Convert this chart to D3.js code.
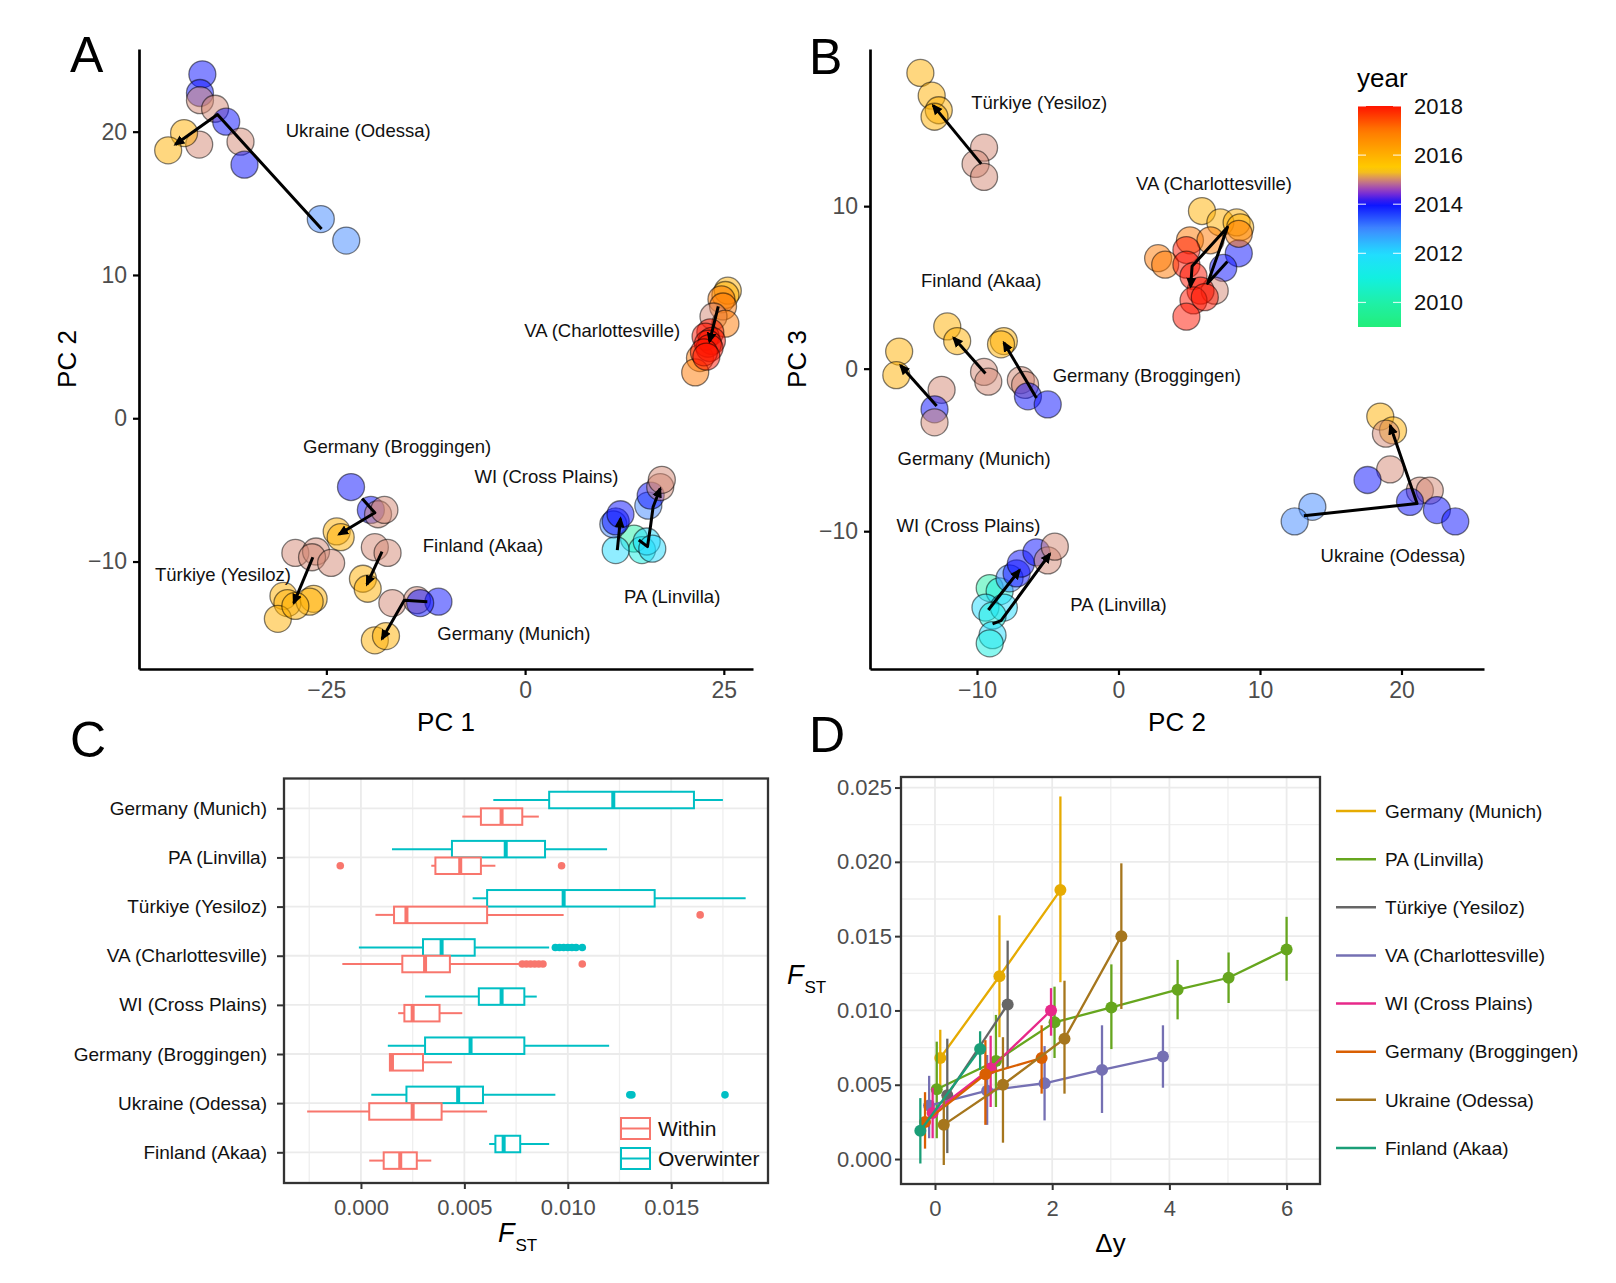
<!DOCTYPE html>
<html><head><meta charset="utf-8">
<script src="https://cdn.jsdelivr.net/npm/d3@7"></script>
<style>body{margin:0;background:#fff}</style>
</head><body>
<script>
// ================= DATA =================
const populations = ["Germany (Munich)","PA (Linvilla)","Türkiye (Yesiloz)","VA (Charlottesville)","WI (Cross Plains)","Germany (Broggingen)","Ukraine (Odessa)","Finland (Akaa)"];

// Panel A: [population, year, PC1, PC2]
const pcaA = [
 ["Ukraine (Odessa)",2013,-25.7,13.9],["Ukraine (Odessa)",2013,-22.5,12.4],
 ["Ukraine (Odessa)",2014,-40.6,24.0],["Ukraine (Odessa)",2014,-40.9,22.7],
 ["Ukraine (Odessa)",2015,-40.9,22.2],["Ukraine (Odessa)",2015,-39.0,21.6],
 ["Ukraine (Odessa)",2014,-37.6,20.7],["Ukraine (Odessa)",2015,-35.8,19.3],
 ["Ukraine (Odessa)",2014,-35.3,17.7],["Ukraine (Odessa)",2015,-41.0,19.1],
 ["Ukraine (Odessa)",2016,-42.9,19.9],["Ukraine (Odessa)",2016,-44.9,18.7],
 ["VA (Charlottesville)",2016,25.5,8.9],["VA (Charlottesville)",2016,25.2,8.6],
 ["VA (Charlottesville)",2017,24.7,8.3],["VA (Charlottesville)",2017,24.9,7.8],
 ["VA (Charlottesville)",2015,23.7,7.1],["VA (Charlottesville)",2017,25.2,6.6],
 ["VA (Charlottesville)",2017,22.0,4.2],["VA (Charlottesville)",2017,21.4,3.2],
 ["VA (Charlottesville)",2018,23.3,6.0],["VA (Charlottesville)",2018,22.7,5.7],
 ["VA (Charlottesville)",2018,23.5,5.4],["VA (Charlottesville)",2018,23.0,5.2],
 ["VA (Charlottesville)",2018,23.2,4.9],["VA (Charlottesville)",2018,22.5,4.6],
 ["VA (Charlottesville)",2018,22.8,4.3],
 ["Germany (Broggingen)",2014,-21.9,-4.8],["Germany (Broggingen)",2014,-19.4,-6.4],
 ["Germany (Broggingen)",2015,-18.5,-6.7],["Germany (Broggingen)",2015,-17.7,-6.4],
 ["Germany (Broggingen)",2016,-23.7,-7.9],["Germany (Broggingen)",2016,-23.2,-8.3],
 ["Türkiye (Yesiloz)",2015,-28.9,-9.4],["Türkiye (Yesiloz)",2015,-26.3,-9.3],
 ["Türkiye (Yesiloz)",2015,-26.8,-9.7],["Türkiye (Yesiloz)",2015,-24.4,-10.1],
 ["Türkiye (Yesiloz)",2016,-30.4,-12.4],["Türkiye (Yesiloz)",2016,-29.9,-12.9],
 ["Türkiye (Yesiloz)",2016,-26.6,-12.6],["Türkiye (Yesiloz)",2016,-27.1,-12.8],
 ["Türkiye (Yesiloz)",2016,-31.1,-14.0],["Türkiye (Yesiloz)",2016,-28.9,-13.1],
 ["Finland (Akaa)",2015,-18.9,-9.0],["Finland (Akaa)",2015,-17.3,-9.4],
 ["Finland (Akaa)",2016,-20.4,-11.2],["Finland (Akaa)",2016,-19.8,-11.9],
 ["Germany (Munich)",2015,-16.7,-12.9],["Germany (Munich)",2015,-13.6,-12.7],
 ["Germany (Munich)",2014,-10.9,-12.8],["Germany (Munich)",2014,-13.2,-12.9],
 ["Germany (Munich)",2016,-18.9,-15.5],["Germany (Munich)",2016,-17.5,-15.2],
 ["PA (Linvilla)",2010,13.7,-8.4],["PA (Linvilla)",2011,14.7,-9.2],
 ["PA (Linvilla)",2012,15.3,-8.6],["PA (Linvilla)",2012,16.0,-9.1],
 ["WI (Cross Plains)",2012,11.4,-9.2],["WI (Cross Plains)",2013,11.1,-7.4],
 ["WI (Cross Plains)",2014,11.4,-7.2],["WI (Cross Plains)",2014,12.0,-6.7],
 ["PA (Linvilla)",2013,15.5,-6.1],["PA (Linvilla)",2014,15.8,-5.4],
 ["PA (Linvilla)",2015,17.0,-4.8],["PA (Linvilla)",2015,17.2,-4.3]
];
// Panel A arrows (yearly centroids): [population, PC1, PC2]
const arrowA = [
 ["Ukraine (Odessa)",-25.6,13.2],["Ukraine (Odessa)",-38.7,21.2],["Ukraine (Odessa)",-44.0,19.1],
 ["VA (Charlottesville)",24.3,7.8],["VA (Charlottesville)",23.2,5.35],
 ["Germany (Broggingen)",-20.5,-5.6],["Germany (Broggingen)",-18.9,-6.6],["Germany (Broggingen)",-23.4,-8.1],
 ["Türkiye (Yesiloz)",-26.7,-9.7],["Türkiye (Yesiloz)",-29.1,-12.9],
 ["Finland (Akaa)",-18.0,-9.3],["Finland (Akaa)",-19.9,-11.6],
 ["Germany (Munich)",-12.3,-12.8],["Germany (Munich)",-15.2,-12.7],["Germany (Munich)",-18.0,-15.4],
 ["WI (Cross Plains)",11.6,-9.2],["WI (Cross Plains)",12.0,-7.0],
 ["PA (Linvilla)",14.3,-8.5],["PA (Linvilla)",15.4,-8.96],["PA (Linvilla)",15.8,-7.45],["PA (Linvilla)",16.1,-6.2],["PA (Linvilla)",17.0,-4.9]
];
const labelA = [
 ["Ukraine (Odessa)",-21.0,20.05],["VA (Charlottesville)",9.7,6.1],
 ["Germany (Broggingen)",-16.1,-2.0],["WI (Cross Plains)",2.7,-4.1],
 ["Finland (Akaa)",-5.3,-8.9],["Türkiye (Yesiloz)",-38.0,-10.9],
 ["PA (Linvilla)",18.5,-12.45],["Germany (Munich)",-1.4,-15.0]
];
const ticksA_x = [-25,0,25];
const ticksA_y = [-10,0,10,20];

// Panel B: [population, year, PC2, PC3]
const pcaB = [
 ["Türkiye (Yesiloz)",2015,-9.5,13.6],["Türkiye (Yesiloz)",2015,-10.1,12.6],["Türkiye (Yesiloz)",2015,-9.5,11.8],
 ["Türkiye (Yesiloz)",2016,-14.0,18.2],["Türkiye (Yesiloz)",2016,-13.2,16.8],
 ["Türkiye (Yesiloz)",2016,-12.7,15.9],["Türkiye (Yesiloz)",2016,-13.0,15.5],
 ["VA (Charlottesville)",2016,5.9,9.7],["VA (Charlottesville)",2016,7.2,9.0],
 ["VA (Charlottesville)",2016,8.35,9.0],["VA (Charlottesville)",2016,8.6,8.7],
 ["VA (Charlottesville)",2014,8.5,7.1],["VA (Charlottesville)",2014,7.4,6.2],
 ["VA (Charlottesville)",2017,8.5,8.3],["VA (Charlottesville)",2017,5.05,7.9],
 ["VA (Charlottesville)",2017,6.5,7.9],["VA (Charlottesville)",2017,2.8,6.8],
 ["VA (Charlottesville)",2017,3.3,6.4],["VA (Charlottesville)",2015,6.8,4.8],
 ["VA (Charlottesville)",2018,4.8,7.3],["VA (Charlottesville)",2018,4.8,6.4],
 ["VA (Charlottesville)",2018,5.3,5.7],["VA (Charlottesville)",2018,5.8,4.8],
 ["VA (Charlottesville)",2018,5.3,4.2],["VA (Charlottesville)",2018,4.8,3.2],
 ["VA (Charlottesville)",2018,6.1,4.4],
 ["Finland (Akaa)",2016,-12.1,2.6],["Finland (Akaa)",2016,-11.4,1.7],
 ["Finland (Akaa)",2015,-9.5,-0.2],["Finland (Akaa)",2015,-9.2,-0.8],
 ["Germany (Broggingen)",2016,-8.1,1.7],["Germany (Broggingen)",2016,-8.3,1.5],
 ["Germany (Broggingen)",2015,-6.9,-0.7],["Germany (Broggingen)",2015,-6.6,-1.0],
 ["Germany (Broggingen)",2014,-6.4,-1.7],["Germany (Broggingen)",2014,-5.0,-2.2],
 ["Germany (Munich)",2016,-15.5,1.05],["Germany (Munich)",2016,-15.7,-0.4],
 ["Germany (Munich)",2015,-12.5,-1.3],["Germany (Munich)",2014,-13.0,-2.5],
 ["Germany (Munich)",2015,-13.0,-3.3],
 ["Ukraine (Odessa)",2016,18.5,-2.95],["Ukraine (Odessa)",2016,19.4,-3.8],
 ["Ukraine (Odessa)",2015,18.9,-4.0],["Ukraine (Odessa)",2015,19.2,-6.2],
 ["Ukraine (Odessa)",2015,21.3,-7.5],["Ukraine (Odessa)",2015,22.0,-7.5],
 ["Ukraine (Odessa)",2014,17.6,-6.85],["Ukraine (Odessa)",2014,20.6,-8.2],
 ["Ukraine (Odessa)",2014,22.5,-8.7],["Ukraine (Odessa)",2014,23.8,-9.4],
 ["Ukraine (Odessa)",2013,13.7,-8.5],["Ukraine (Odessa)",2013,12.45,-9.4],
 ["PA (Linvilla)",2010,-9.1,-13.5],["PA (Linvilla)",2011,-8.4,-13.7],
 ["WI (Cross Plains)",2012,-9.4,-14.7],["PA (Linvilla)",2012,-8.1,-14.7],
 ["PA (Linvilla)",2011,-8.9,-15.2],["WI (Cross Plains)",2012,-8.9,-16.4],
 ["PA (Linvilla)",2011,-9.1,-16.9],
 ["WI (Cross Plains)",2013,-7.7,-12.9],["WI (Cross Plains)",2014,-7.2,-12.6],
 ["WI (Cross Plains)",2014,-6.9,-12.0],["PA (Linvilla)",2014,-5.8,-11.3],
 ["PA (Linvilla)",2015,-5.0,-11.8],["PA (Linvilla)",2015,-4.5,-10.95]
];
const arrowB = [
 ["Türkiye (Yesiloz)",-9.7,12.6],["Türkiye (Yesiloz)",-13.1,16.2],
 ["VA (Charlottesville)",7.7,6.6],["VA (Charlottesville)",6.3,5.25],["VA (Charlottesville)",7.7,8.7],["VA (Charlottesville)",5.2,6.3],["VA (Charlottesville)",5.1,5.05],
 ["Finland (Akaa)",-9.4,-0.3],["Finland (Akaa)",-11.65,1.9],
 ["Germany (Broggingen)",-5.8,-1.8],["Germany (Broggingen)",-8.1,1.6],
 ["Germany (Munich)",-12.85,-2.3],["Germany (Munich)",-15.4,0.2],
 ["Ukraine (Odessa)",13.1,-9.05],["Ukraine (Odessa)",21.1,-8.3],["Ukraine (Odessa)",19.2,-3.5],
 ["WI (Cross Plains)",-9.2,-14.85],["WI (Cross Plains)",-7.0,-12.4],
 ["PA (Linvilla)",-8.9,-15.7],["PA (Linvilla)",-8.3,-15.5],["PA (Linvilla)",-4.85,-11.4]
];
const labelB = [
 ["Türkiye (Yesiloz)",-5.6,16.4],["VA (Charlottesville)",6.75,11.4],
 ["Finland (Akaa)",-9.7,5.45],["Germany (Broggingen)",2.0,-0.45],
 ["Germany (Munich)",-10.2,-5.5],["WI (Cross Plains)",-10.6,-9.65],
 ["Ukraine (Odessa)",19.4,-11.5],["PA (Linvilla)",0.0,-14.5]
];
const ticksB_x = [-10,0,10,20];
const ticksB_y = [-10,0,10];
const yearTicks = [2010,2012,2014,2016,2018];
const yearStops  = [2009,2010,2011,2012,2013,2014,2014.5,2015,2015.4,2016,2017,2018];
const yearColors = ["#22EE7A","#1FF0A8","#12F0E0","#22DCFF","#3F88FF","#0A10FF","#8A30D0","#D38773","#FFD000","#FFB000","#FF7800","#FF1400"];

// Panel C: [population, lower whisker, q1, median, q3, upper whisker]
const boxGroups = ["Within","Overwinter"];
const fstWithin = [
 ["Germany (Munich)",0.0049,0.0058,0.0068,0.0078,0.0086],
 ["PA (Linvilla)",0.0034,0.0036,0.0048,0.0058,0.0065],
 ["Türkiye (Yesiloz)",0.0007,0.0016,0.0022,0.0061,0.0098],
 ["VA (Charlottesville)",-0.0009,0.0020,0.0031,0.0043,0.0077],
 ["WI (Cross Plains)",0.0018,0.0021,0.0025,0.0038,0.0049],
 ["Germany (Broggingen)",0.0014,0.0014,0.0015,0.0030,0.0044],
 ["Ukraine (Odessa)",-0.0026,0.0004,0.0025,0.0039,0.0061],
 ["Finland (Akaa)",0.0004,0.0011,0.0019,0.0027,0.0034]
];
const fstOverwinter = [
 ["Germany (Munich)",0.0064,0.0091,0.0122,0.0161,0.0175],
 ["PA (Linvilla)",0.0015,0.0044,0.0070,0.0089,0.0119],
 ["Türkiye (Yesiloz)",0.0054,0.0061,0.0098,0.0142,0.0186],
 ["VA (Charlottesville)",-0.0001,0.0030,0.0039,0.0055,0.0091],
 ["WI (Cross Plains)",0.0031,0.0057,0.0068,0.0079,0.0085],
 ["Germany (Broggingen)",0.0013,0.0031,0.0053,0.0079,0.0120],
 ["Ukraine (Odessa)",0.0005,0.0022,0.0047,0.0059,0.0094],
 ["Finland (Akaa)",0.0062,0.0065,0.0069,0.0077,0.0091]
];
const outWithin = [
 ["PA (Linvilla)",-0.0010],["PA (Linvilla)",0.0097],["Türkiye (Yesiloz)",0.0164],
 ["VA (Charlottesville)",0.0078],["VA (Charlottesville)",0.0080],["VA (Charlottesville)",0.0082],
 ["VA (Charlottesville)",0.0084],["VA (Charlottesville)",0.0086],["VA (Charlottesville)",0.0088],
 ["VA (Charlottesville)",0.0107]
];
const outOverwinter = [
 ["VA (Charlottesville)",0.0094],["VA (Charlottesville)",0.0096],["VA (Charlottesville)",0.0098],
 ["VA (Charlottesville)",0.0100],["VA (Charlottesville)",0.0102],["VA (Charlottesville)",0.0104],
 ["VA (Charlottesville)",0.0107],
 ["Ukraine (Odessa)",0.0130],["Ukraine (Odessa)",0.0131],["Ukraine (Odessa)",0.0176]
];
const ticksC_x = [0,0.005,0.010,0.015];

// Panel D: each row [Δy, FST, lower, upper]
const dMunich    = [[0.09,0.0068,0.0046,0.0087],[1.10,0.0123,0.0082,0.0164],[2.14,0.0181,0.0119,0.0244]];
const dLinvilla  = [[0.03,0.0047,0.0014,0.0079],[1.04,0.0066,0.0035,0.0097],[2.04,0.0092,0.0068,0.0116],[3.01,0.0102,0.0074,0.0131],[4.14,0.0114,0.0094,0.0134],[5.01,0.0122,0.0105,0.0139],[6.00,0.0141,0.0120,0.0163]];
const dYesiloz   = [[0.21,0.0043,0.0004,0.0081],[1.24,0.0104,0.0061,0.0147]];
const dCharlott  = [[-0.10,0.0036,0.0014,0.0056],[0.89,0.0046,0.0023,0.0070],[1.87,0.0051,0.0026,0.0076],[2.85,0.0060,0.0031,0.0090],[3.89,0.0069,0.0048,0.0090]];
const dCross     = [[-0.04,0.0031,0.0014,0.0048],[0.95,0.0061,0.0035,0.0083],[1.98,0.0100,0.0083,0.0115]];
const dBrogg     = [[-0.17,0.0025,0.0007,0.0045],[0.86,0.0057,0.0023,0.0080],[1.82,0.0068,0.0044,0.0090]];
const dOdessa    = [[0.15,0.0023,-0.0004,0.0042],[1.16,0.0050,0.0011,0.0082],[2.21,0.0081,0.0044,0.0120],[3.18,0.0150,0.0101,0.0199]];
const dAkaa      = [[-0.25,0.0019,-0.0003,0.0041],[0.77,0.0074,0.0060,0.0086]];
const seriesD = [dMunich,dLinvilla,dYesiloz,dCharlott,dCross,dBrogg,dOdessa,dAkaa];
const colorsD = ["#E6AB02","#66A61E","#666666","#7570B3","#E7298A","#D95F02","#A6761D","#1B9E77"];
const ticksD_x = [0,2,4,6];
const ticksD_y = [0,0.005,0.010,0.015,0.020,0.025];

// ================= DRAW =================
const W = 1616, H = 1283;
const FONT = "'Liberation Sans', Arial, Helvetica, sans-serif";
const svg = d3.select("body").append("svg").attr("width",W).attr("height",H)
  .style("font-family",FONT).style("background","#fff");
svg.append("rect").attr("width",W).attr("height",H).attr("fill","#fff");

const defs = svg.append("defs");
defs.append("marker").attr("id","arr").attr("viewBox","0 0 10 10")
  .attr("refX",8).attr("refY",5).attr("markerWidth",11).attr("markerHeight",11)
  .attr("markerUnits","userSpaceOnUse").attr("orient","auto")
  .append("path").attr("d","M0,0.5L10,5L0,9.5z").attr("fill","#000");

const yearColor = d3.scaleLinear().domain(yearStops).range(yearColors).interpolate(d3.interpolateRgb).clamp(true);
const minusFmt = d => d < 0 ? "\u2212" + Math.abs(d) : String(d);

function styleAxis(g, fs, col) {
  g.selectAll("text").style("font-size", fs+"px").attr("fill", col).style("font-family",FONT);
}

function panelLetter(t, x, y) {
  svg.append("text").attr("x",x).attr("y",y).text(t).style("font-size","50px").attr("fill","#000");
}

// ---- scatter panel (A / B) ----
function pcaPanel(opt) {
  const {x, y, pts, arrows, labels, tx, ty, xTitle, yTitle, yTitleX} = opt;
  const g = svg.append("g");
  const ax = g.append("g").attr("transform",`translate(0,${y.range()[0]})`)
    .call(d3.axisBottom(x).tickValues(tx).tickSize(6).tickSizeOuter(0).tickPadding(7).tickFormat(minusFmt));
  const ay = g.append("g").attr("transform",`translate(${x.range()[0]},0)`)
    .call(d3.axisLeft(y).tickValues(ty).tickSize(6).tickSizeOuter(0).tickPadding(6).tickFormat(minusFmt));
  [ax, ay].forEach(a => {
    a.select(".domain").attr("stroke","#000").attr("stroke-width",2.7);
    a.selectAll(".tick line").attr("stroke","#000").attr("stroke-width",2.2);
    styleAxis(a, 23, "#4D4D4D");
  });
  g.append("g").selectAll("circle").data(pts).join("circle")
    .attr("cx", d => x(d[2])).attr("cy", d => y(d[3])).attr("r", 13.5)
    .attr("fill", d => yearColor(d[1])).attr("fill-opacity", 0.5)
    .attr("stroke", "#000").attr("stroke-opacity", 0.5).attr("stroke-width", 1.3);
  const line = d3.line().x(d => x(d[1])).y(d => y(d[2]));
  const grouped = d3.groups(arrows, d => d[0]);
  g.append("g").selectAll("path").data(grouped).join("path")
    .attr("d", d => line(d[1])).attr("fill","none").attr("stroke","#000")
    .attr("stroke-width",3).attr("stroke-linejoin","round").attr("marker-end","url(#arr)");
  g.append("g").selectAll("text").data(labels).join("text")
    .attr("x", d => x(d[1])).attr("y", d => y(d[2])).attr("text-anchor","middle")
    .attr("dy","0.35em").style("font-size","18.5px").attr("fill","#111").text(d => d[0]);
  const cx = (x.range()[0] + x.range()[1]) / 2;
  g.append("text").attr("x",cx).attr("y",731).attr("text-anchor","middle")
    .style("font-size","26px").attr("fill","#000").text(xTitle);
  const cy = (y.range()[0] + y.range()[1]) / 2;
  g.append("text").attr("transform",`translate(${yTitleX},${cy}) rotate(-90)`).attr("text-anchor","middle")
    .style("font-size","26px").attr("fill","#000").text(yTitle);
}

const xA = d3.scaleLinear().domain([-48.57, 28.67]).range([139, 753]);
const yA = d3.scaleLinear().domain([-17.5, 25.77]).range([669, 49]);
pcaPanel({x:xA, y:yA, pts:pcaA, arrows:arrowA, labels:labelA, tx:ticksA_x, ty:ticksA_y,
  xTitle:"PC 1", yTitle:"PC 2", yTitleX:76});

const xB = d3.scaleLinear().domain([-17.56, 25.83]).range([870, 1484]);
const yB = d3.scaleLinear().domain([-18.48, 19.67]).range([669, 49]);
pcaPanel({x:xB, y:yB, pts:pcaB, arrows:arrowB, labels:labelB, tx:ticksB_x, ty:ticksB_y,
  xTitle:"PC 2", yTitle:"PC 3", yTitleX:806});

panelLetter("A", 70, 72);
panelLetter("B", 809, 74);

// ---- year colourbar legend ----
(function(){
  const yL = d3.scaleLinear().domain([2009, 2018]).range([327, 106]);
  const grad = defs.append("linearGradient").attr("id","yearGrad")
    .attr("x1",0).attr("y1",1).attr("x2",0).attr("y2",0);
  d3.range(0, 41).forEach(i => {
    const yr = 2009 + i * 9 / 40;
    grad.append("stop").attr("offset", (i/40)).attr("stop-color", yearColor(yr));
  });
  const bx = 1358, bw = 43;
  svg.append("rect").attr("x",bx).attr("y",yL(2018)).attr("width",bw).attr("height",yL(2009)-yL(2018))
    .attr("fill","url(#yearGrad)");
  const lg = svg.append("g");
  lg.selectAll("line.l").data(yearTicks).join("line").attr("class","l")
    .attr("x1",bx).attr("x2",bx+8).attr("y1",d=>yL(d)).attr("y2",d=>yL(d))
    .attr("stroke","#fff").attr("stroke-opacity",0.8).attr("stroke-width",1.2);
  lg.selectAll("line.r").data(yearTicks).join("line").attr("class","r")
    .attr("x1",bx+bw-8).attr("x2",bx+bw).attr("y1",d=>yL(d)).attr("y2",d=>yL(d))
    .attr("stroke","#fff").attr("stroke-opacity",0.8).attr("stroke-width",1.2);
  lg.selectAll("text").data(yearTicks).join("text")
    .attr("x",1414).attr("y",d=>yL(d)).attr("dy","0.35em").style("font-size","22px")
    .attr("fill","#111").text(d=>d);
  svg.append("text").attr("x",1357).attr("y",87).style("font-size","26px").attr("fill","#000").text("year");
})();

function fstTitle(x, y) {
  const t = svg.append("text").attr("x",x).attr("y",y).attr("fill","#000");
  t.append("tspan").style("font-size","27px").style("font-style","italic").text("F");
  t.append("tspan").style("font-size","17px").attr("dx",1).attr("dy",9).text("ST");
}

// ---- Panel C: boxplots ----
(function(){
  const L = 284, R = 768, T = 778.5, B = 1183;
  const x = d3.scaleLinear().domain([-0.00372, 0.01968]).range([L, R]);
  const y = d3.scalePoint().domain(populations).range([808.3, 1152.3]);
  const g = svg.append("g");
  const minor = [-0.0025,0.0025,0.0075,0.0125,0.0175];
  g.selectAll("line.mi").data(minor).join("line").attr("class","mi")
    .attr("x1",d=>x(d)).attr("x2",d=>x(d)).attr("y1",T).attr("y2",B).attr("stroke","#EFEFEF").attr("stroke-width",1.3);
  g.selectAll("line.mj").data(ticksC_x).join("line").attr("class","mj")
    .attr("x1",d=>x(d)).attr("x2",d=>x(d)).attr("y1",T).attr("y2",B).attr("stroke","#EBEBEB").attr("stroke-width",1.8);
  g.selectAll("line.hz").data(populations).join("line").attr("class","hz")
    .attr("x1",L).attr("x2",R).attr("y1",d=>y(d)).attr("y2",d=>y(d)).attr("stroke","#EBEBEB").attr("stroke-width",1.8);
  const colW = "#F8766D", colO = "#00BFC4";
  const bh = 16.5, off = 8.3;
  function drawBoxes(data, outs, col, dy) {
    const bg = g.append("g");
    data.forEach(d => {
      const cy = y(d[0]) + dy;
      bg.append("line").attr("x1",x(d[1])).attr("x2",x(d[2])).attr("y1",cy).attr("y2",cy).attr("stroke",col).attr("stroke-width",2);
      bg.append("line").attr("x1",x(d[4])).attr("x2",x(d[5])).attr("y1",cy).attr("y2",cy).attr("stroke",col).attr("stroke-width",2);
      bg.append("rect").attr("x",x(d[2])).attr("y",cy-bh/2).attr("width",x(d[4])-x(d[2])).attr("height",bh)
        .attr("fill","#fff").attr("stroke",col).attr("stroke-width",2);
      bg.append("line").attr("x1",x(d[3])).attr("x2",x(d[3])).attr("y1",cy-bh/2).attr("y2",cy+bh/2).attr("stroke",col).attr("stroke-width",4);
    });
    bg.selectAll("circle").data(outs).join("circle")
      .attr("cx",d=>x(d[1])).attr("cy",d=>y(d[0])+dy).attr("r",3.8).attr("fill",col);
  }
  drawBoxes(fstOverwinter, outOverwinter, colO, -off);
  drawBoxes(fstWithin, outWithin, colW, off);
  g.append("rect").attr("x",L).attr("y",T).attr("width",R-L).attr("height",B-T)
    .attr("fill","none").attr("stroke","#333").attr("stroke-width",2.3);
  const ax = g.append("g").attr("transform",`translate(0,${B})`)
    .call(d3.axisBottom(x).tickValues(ticksC_x).tickSize(6).tickSizeOuter(0).tickPadding(10).tickFormat(d3.format(".3f")));
  const ay = g.append("g").attr("transform",`translate(${L},0)`)
    .call(d3.axisLeft(y).tickSize(7).tickSizeOuter(0).tickPadding(10));
  [ax, ay].forEach(a => {
    a.select(".domain").remove();
    a.selectAll(".tick line").attr("stroke","#333").attr("stroke-width",2);
  });
  styleAxis(ax, 22, "#4D4D4D");
  styleAxis(ay, 19, "#111");
  const lg = g.append("g");
  [["Within",colW,1117],["Overwinter",colO,1147]].forEach(([lab,col,ty]) => {
    lg.append("rect").attr("x",621).attr("y",ty+1).attr("width",29).attr("height",21)
      .attr("fill","#fff").attr("stroke",col).attr("stroke-width",2);
    lg.append("line").attr("x1",621).attr("x2",650).attr("y1",ty+11.5).attr("y2",ty+11.5).attr("stroke",col).attr("stroke-width",2);
    lg.append("text").attr("x",658).attr("y",ty+11.5).attr("dy","0.35em").style("font-size","21px").attr("fill","#111").text(lab);
  });
  fstTitle(498, 1242);
})();

// ---- Panel D: FST vs Δy ----
(function(){
  const L = 901, R = 1320, T = 777, B = 1184;
  const x = d3.scaleLinear().domain([-0.58, 6.57]).range([L, R]);
  const y = d3.scaleLinear().domain([-0.00168, 0.02571]).range([B, T]);
  const g = svg.append("g");
  const minX = [1,3,5], minY = [0.0025,0.0075,0.0125,0.0175,0.0225];
  g.selectAll("line.mx").data(minX).join("line").attr("class","mx")
    .attr("x1",d=>x(d)).attr("x2",d=>x(d)).attr("y1",T).attr("y2",B).attr("stroke","#EFEFEF").attr("stroke-width",1.3);
  g.selectAll("line.my").data(minY).join("line").attr("class","my")
    .attr("x1",L).attr("x2",R).attr("y1",d=>y(d)).attr("y2",d=>y(d)).attr("stroke","#EFEFEF").attr("stroke-width",1.3);
  g.selectAll("line.jx").data(ticksD_x).join("line").attr("class","jx")
    .attr("x1",d=>x(d)).attr("x2",d=>x(d)).attr("y1",T).attr("y2",B).attr("stroke","#EBEBEB").attr("stroke-width",1.8);
  g.selectAll("line.jy").data(ticksD_y).join("line").attr("class","jy")
    .attr("x1",L).attr("x2",R).attr("y1",d=>y(d)).attr("y2",d=>y(d)).attr("stroke","#EBEBEB").attr("stroke-width",1.8);
  const line = d3.line().x(d=>x(d[0])).y(d=>y(d[1]));
  seriesD.forEach((s, i) => {
    const c = colorsD[i];
    const sg = g.append("g");
    sg.selectAll("line").data(s).join("line")
      .attr("x1",d=>x(d[0])).attr("x2",d=>x(d[0])).attr("y1",d=>y(d[2])).attr("y2",d=>y(d[3]))
      .attr("stroke",c).attr("stroke-width",2.3);
    sg.append("path").attr("d",line(s)).attr("fill","none").attr("stroke",c).attr("stroke-width",2.3);
    sg.selectAll("circle").data(s).join("circle")
      .attr("cx",d=>x(d[0])).attr("cy",d=>y(d[1])).attr("r",6).attr("fill",c);
  });
  g.append("rect").attr("x",L).attr("y",T).attr("width",R-L).attr("height",B-T)
    .attr("fill","none").attr("stroke","#333").attr("stroke-width",2.3);
  const ax = g.append("g").attr("transform",`translate(0,${B})`)
    .call(d3.axisBottom(x).tickValues(ticksD_x).tickSize(6).tickSizeOuter(0).tickPadding(10));
  const ay = g.append("g").attr("transform",`translate(${L},0)`)
    .call(d3.axisLeft(y).tickValues(ticksD_y).tickSize(6).tickSizeOuter(0).tickPadding(3).tickFormat(d3.format(".3f")));
  [ax, ay].forEach(a => {
    a.select(".domain").remove();
    a.selectAll(".tick line").attr("stroke","#333").attr("stroke-width",2);
    styleAxis(a, 22, "#4D4D4D");
  });
  const ly = d3.scalePoint().domain(populations).range([811, 1148]);
  const lg = g.append("g");
  populations.forEach((p, i) => {
    lg.append("line").attr("x1",1336).attr("x2",1376).attr("y1",ly(p)).attr("y2",ly(p))
      .attr("stroke",colorsD[i]).attr("stroke-width",2.5);
    lg.append("text").attr("x",1385).attr("y",ly(p)).attr("dy","0.35em").style("font-size","19px")
      .attr("fill","#111").text(p);
  });
  svg.append("text").attr("x",(L+R)/2).attr("y",1252).attr("text-anchor","middle")
    .style("font-size","26px").attr("fill","#000").text("\u0394y");
  fstTitle(787, 984);
})();

panelLetter("C", 70, 757);
panelLetter("D", 809, 752);
</script>
</body></html>
